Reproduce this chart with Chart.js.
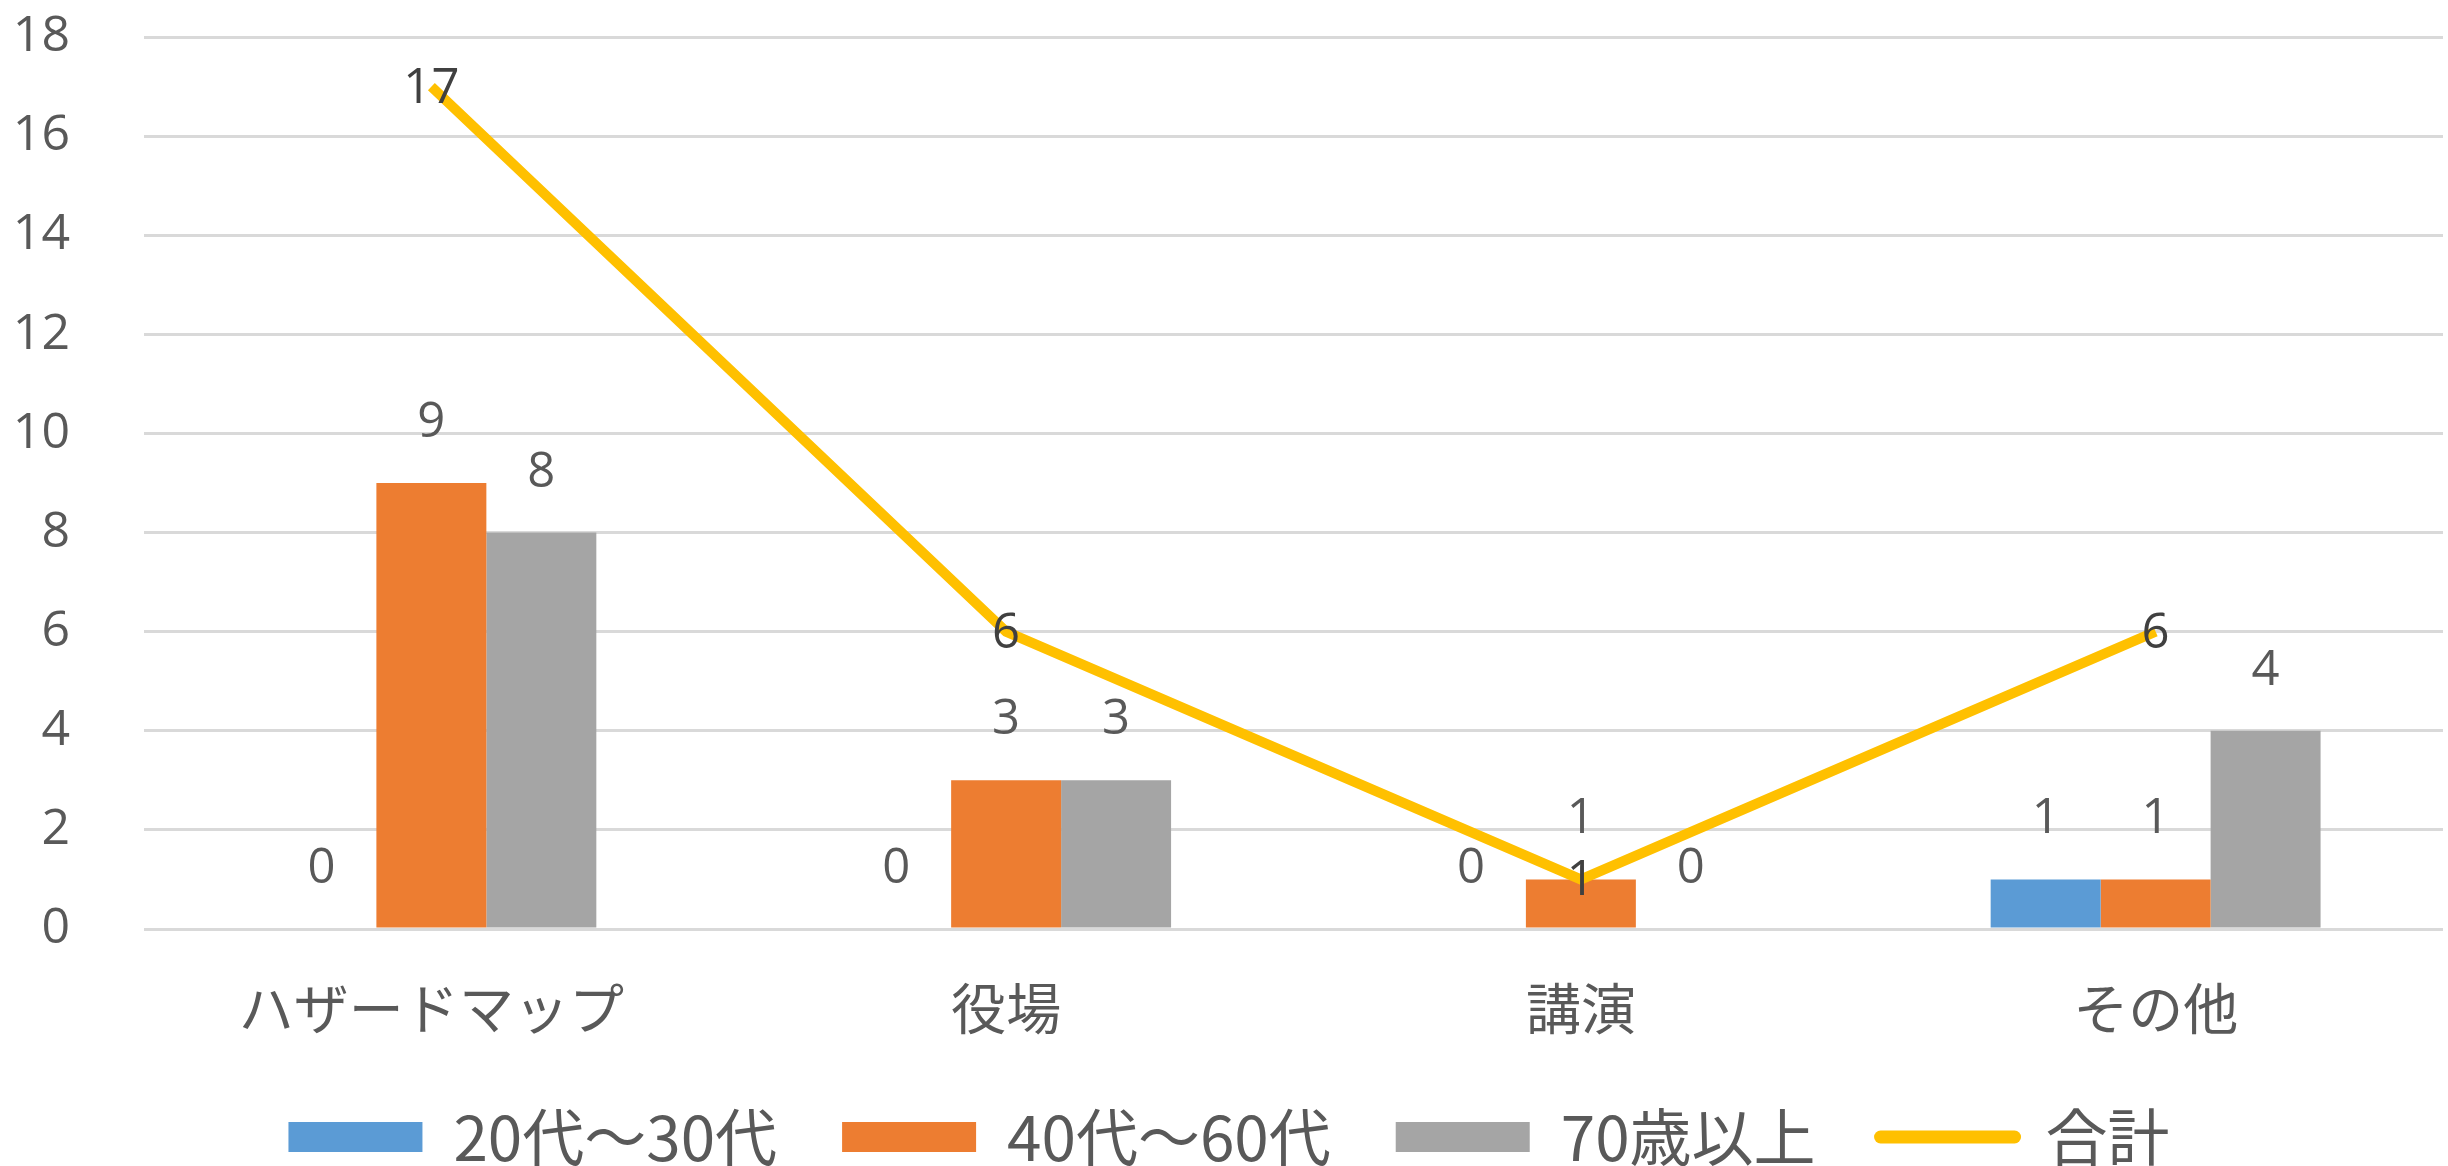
<!DOCTYPE html>
<html>
<head>
<meta charset="utf-8">
<script src="https://cdn.jsdelivr.net/npm/chart.js@4"></script>
<style>
  html, body { margin: 0; padding: 0; background: #fff; }
  #wrap { width: 2448px; height: 1166px; }
</style>
</head>
<body>
<div id="wrap"><canvas id="surveyChart"></canvas></div>
<script>
// カテゴリと系列
const categories = ['ハザードマップ', '役場', '講演', 'その他'];
const age20to30 = [0, 0, 0, 1];
const age40to60 = [9, 3, 1, 1];
const age70plus = [8, 3, 0, 4];
const totals = [17, 6, 1, 6];
const yTicks = [0, 2, 4, 6, 8, 10, 12, 14, 16, 18];

const numFont = '"Open Sans", "Noto Sans", sans-serif';
const jpFont = '"Noto Sans CJK JP", sans-serif';

// 値ラベル (棒は上に、折れ線は点の中央に)
const valueLabels = {
    id: 'valueLabels',
    afterDatasetsDraw(chart) {
        const ctx = chart.ctx;
        ctx.save();
        ctx.font = '49px ' + numFont;
        ctx.textAlign = 'center';
        ctx.textBaseline = 'middle';
        chart.data.datasets.forEach(function (ds, i) {
            const meta = chart.getDatasetMeta(i);
            meta.data.forEach(function (el, j) {
                const v = ds.data[j];
                if (ds.type === 'line') {
                    ctx.fillStyle = '#404040';
                    ctx.fillText(v, el.x, el.y + 2);
                } else {
                    ctx.fillStyle = '#595959';
                    ctx.fillText(v, el.x, el.y - 60);
                }
            });
        });
        ctx.restore();
    }
};

document.addEventListener('DOMContentLoaded', function () {
    const ctx = document.getElementById('surveyChart').getContext('2d');
    new Chart(ctx, {
        data: {
            labels: categories,
            datasets: [
                { type: 'bar', label: '20代～30代', data: age20to30, backgroundColor: '#5B9BD5' },
                { type: 'bar', label: '40代～60代', data: age40to60, backgroundColor: '#ED7D31' },
                { type: 'bar', label: '70歳以上', data: age70plus, backgroundColor: '#A5A5A5' },
                {
                    type: 'line', label: '合計', data: totals,
                    borderColor: '#FFC000', backgroundColor: '#FFC000',
                    borderWidth: 10, pointRadius: 0, tension: 0, order: -1
                }
            ]
        },
        options: {
            responsive: true,
            maintainAspectRatio: false,
            animation: false,
            layout: { padding: { top: 37, left: 15, right: 5, bottom: -12 } },
            datasets: {
                bar: { categoryPercentage: 0.574, barPercentage: 1.0 }
            },
            scales: {
                x: {
                    grid: { display: false, drawTicks: false },
                    border: { display: false },
                    afterFit: function (axis) {
                        axis.height = 112;
                        axis.paddingLeft = 0;
                        axis.paddingRight = 0;
                    },
                    ticks: {
                        padding: 46,
                        color: '#595959',
                        font: { family: jpFont, size: 55 }
                    }
                },
                y: {
                    min: 0,
                    max: 18,
                    afterBuildTicks: function (axis) {
                        axis.ticks = yTicks.map(function (v) { return { value: v }; });
                    },
                    afterFit: function (axis) {
                        axis.width = 129;
                        axis.paddingTop = 0;
                        axis.paddingBottom = 0;
                    },
                    grid: { color: '#D9D9D9', lineWidth: 3, drawTicks: false },
                    border: { display: false },
                    ticks: {
                        padding: 74,
                        color: '#595959',
                        font: { family: numFont, size: 50 }
                    }
                }
            },
            plugins: {
                tooltip: { enabled: false },
                legend: {
                    position: 'bottom',
                    labels: {
                        color: '#595959',
                        font: { family: jpFont, size: 62 },
                        usePointStyle: true,
                        pointStyleWidth: 134,
                        boxHeight: 30,
                        padding: 65,
                        sort: function (a, b) { return a.datasetIndex - b.datasetIndex; },
                        generateLabels: function (chart) {
                            const items = Chart.defaults.plugins.legend.labels.generateLabels(chart);
                            items.forEach(function (it) {
                                const ds = chart.data.datasets[it.datasetIndex];
                                if (ds.type === 'line') {
                                    it.pointStyle = 'line';
                                    it.lineWidth = 13;
                                    it.strokeStyle = '#FFC000';
                                    it.lineCap = 'round';
                                } else {
                                    it.pointStyle = 'rect';
                                    it.lineWidth = 0;
                                }
                            });
                            return items;
                        }
                    }
                }
            }
        },
        plugins: [valueLabels]
    });
});
</script>
</body>
</html>
